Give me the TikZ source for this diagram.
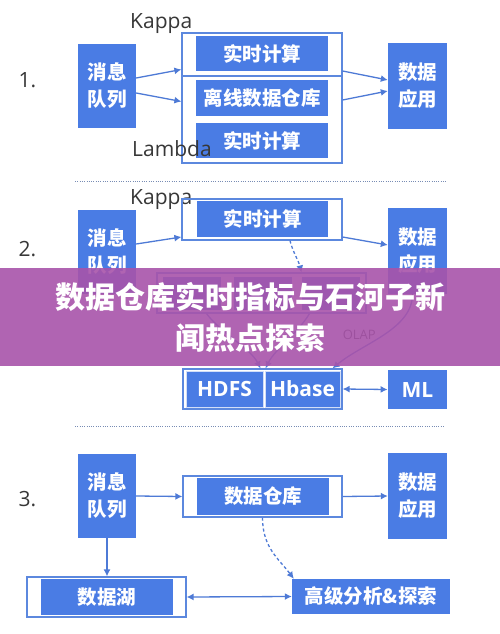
\documentclass[tikz,border=0pt]{standalone}
\usepackage{fontspec}
\setmainfont{Open Sans}
\newfontfamily\cjk{Noto Sans CJK SC}
\usetikzlibrary{calc,positioning,arrows.meta}
\definecolor{qblue}{RGB}{74,124,228}
\definecolor{fblue}{RGB}{92,136,222}
\definecolor{lblue}{RGB}{78,122,214}
\definecolor{dotc}{RGB}{120,140,180}
\definecolor{bannerc}{RGB}{168,84,170}
\definecolor{txtc}{RGB}{55,55,55}
\tikzset{
  line/.style     = {-{Latex[length=7pt,width=7pt]}, lblue, line width=1.3pt},
  dline/.style    = {{Latex[length=7pt,width=7pt]}-{Latex[length=7pt,width=7pt]}, lblue, line width=1.3pt},
  dashline/.style = {line, dash pattern=on 3pt off 2.5pt},
  bluebox/.style  = {fill=qblue, text=white, inner sep=0pt, align=center,
                     font=\cjk\bfseries\fontsize{19.5}{27}\selectfont},
  tallbox/.style  = {bluebox, minimum width=58pt, minimum height=84pt},
  innerbox/.style = {bluebox, minimum width=132pt, minimum height=36pt},
  frame/.style    = {draw=fblue, line width=1.2pt, inner sep=0pt, minimum width=160pt},
  latinbox/.style = {bluebox, draw=white!75!qblue, line width=0.8pt, font=\bfseries\fontsize{21}{24}\selectfont},
  sepline/.style  = {dotc, line width=1pt, dash pattern=on 1pt off 1.3pt},
  lbl/.style      = {txtc, inner sep=0pt, font=\fontsize{21}{24}\selectfont},
  num/.style      = {txtc, inner sep=0pt, font=\fontsize{21}{24}\selectfont},
  banner/.style   = {fill=bannerc, fill opacity=0.9, text opacity=1, text=white, align=center,
                     minimum width=500pt, minimum height=98pt, inner sep=0pt,
                     font=\cjk\bfseries\fontsize{30}{41}\selectfont},
}
\begin{document}
\begin{tikzpicture}[x=1pt, y=-1pt]
  \useasboundingbox[fill=white] (0,0) rectangle (500,634);

  % 1.
  \node[num] (n1) at (27.5,80) {1.};
  \node[tallbox] (mq1) at (107,86) {消息\\队列};
  \node[frame, minimum height=43pt] (kf1) at (262,54.5) {};
  \node[frame, minimum height=87pt] (lf1) at (262,119.5) {};
  \node[innerbox, minimum height=35pt] (rt1) at (262,53.5) {实时计算};
  \node[innerbox] (lx1) at (262,98) {离线数据仓库};
  \node[innerbox, minimum height=35pt] (rt1b) at (262,140.5) {实时计算};
  \node[tallbox, minimum width=59pt, minimum height=86pt] (app1) at (417.5,86) {数据\\应用};
  \node[lbl, anchor=base west] (kappa1) at (130,29) {Kappa};
  \node[lbl, anchor=base west] (lambda1) at (132,156) {Lambda};
  \draw[line] ([yshift=8pt]mq1.east) -- ([yshift=-15pt]kf1.west);
  \draw[line] ([yshift=-7pt]mq1.east) -- ([yshift=18pt]lf1.west);
  \draw[line] ([yshift=-16.5pt]kf1.east) -- ([yshift=6pt]app1.west);
  \draw[line] ([yshift=19.5pt]lf1.east) -- ([yshift=-5pt]app1.west);

  \coordinate (d1a) at (75,181);
  \coordinate (d1b) at (447,181);
  \draw[sepline] (d1a) -- (d1b);

  % 2.
  \node[num] (n2) at (27.5,249) {2.};
  \node[lbl, anchor=base west] (kappa2) at (130,204) {Kappa};
  \node[tallbox] (mq2) at (107,252) {消息\\队列};
  \node[frame, minimum height=41pt] (kf2) at (262,219.5) {};
  \node[innerbox, minimum width=131pt] (rt2) at (262.5,219) {实时计算};
  \node[tallbox, minimum width=59pt, minimum height=86pt] (app2) at (417.5,251) {数据\\应用};
  \node[frame, minimum width=209pt, minimum height=40pt] (mf2) at (261.5,293) {};
  \node[bluebox, minimum width=58pt, minimum height=33pt] (c1) at (192,293) {};
  \node[bluebox, minimum width=58pt, minimum height=33pt] (c2) at (263,293) {};
  \node[bluebox, minimum width=58pt, minimum height=33pt] (c3) at (331,293) {};
  \node[frame, minimum width=159pt, minimum height=40pt] (hf2) at (262.5,389) {};
  \node[latinbox, minimum width=77pt, minimum height=36pt] (hdfs) at (224.5,389) {HDFS};
  \node[latinbox, minimum width=75pt, minimum height=36pt] (hbase) at (302.5,389) {Hbase};
  \node[latinbox, draw=none, minimum width=59pt, minimum height=39pt] (ml) at (417.5,389.5) {ML};
  \draw[line] ([yshift=8pt]mq2.east) -- ([yshift=-17.5pt]kf2.west);
  \draw[line] ([yshift=-17.5pt]kf2.east) -- ([yshift=6pt]app2.west);
  \draw[dashline] ([xshift=28pt]kf2.south) .. controls +(3,12) and +(-3,-12) .. ([xshift=40pt]mf2.north);
  \draw[line] ([xshift=-55pt]mf2.south) .. controls +(15,20) and +(-10,-20) .. ([xshift=-2pt]hf2.north);
  \draw[line] ([xshift=48pt]mf2.south) .. controls +(-12,20) and +(10,-20) .. ([xshift=3pt]hf2.north);
  \draw[line] ([xshift=-5pt]app2.south) .. controls +(0,35) and +(30,-25) .. ([xshift=70pt]hf2.north)
    node[pos=0.5, left=4pt, txtc, font=\fontsize{13}{15}\selectfont] (olap) {OLAP};
  \draw[dline] (hf2.east) -- (ml.west);

  \coordinate (d2a) at (75,426);
  \coordinate (d2b) at (445,426);
  \draw[sepline] (d2a) -- (d2b);

  % 3.
  \node[num] (n3) at (27.5,499) {3.};
  \node[tallbox] (mq3) at (107,496) {消息\\队列};
  \node[frame, minimum width=159pt, minimum height=41pt] (dw3) at (262.5,496.5) {};
  \node[innerbox, minimum height=37pt] (dwin) at (263,496.5) {数据仓库};
  \node[tallbox, minimum width=59pt, minimum height=86pt] (app3) at (417.5,496) {数据\\应用};
  \node[frame, minimum width=159pt, minimum height=40pt] (lake) at (106.5,597) {};
  \node[innerbox] (lakein) at (107,597) {数据湖};
  \node[innerbox, minimum width=158pt, minimum height=35pt] (adv) at (371,596.5) {高级分析\&探索};
  \draw[line] (mq3.east) -- (dw3.west);
  \draw[line] (dw3.east) -- (app3.west);
  \draw[line] (mq3.south) -- (lake.north -| mq3.south);
  \draw[dline] (lake.east) -- (adv.west);
  \draw[dashline] (dw3.south) .. controls +(0,30) and +(-15,-20) .. ([xshift=2pt]adv.north west);

  % banner
  \node[banner] (title) at (250,317) {数据仓库实时指标与石河子新\\闻热点探索};
\end{tikzpicture}
\end{document}
